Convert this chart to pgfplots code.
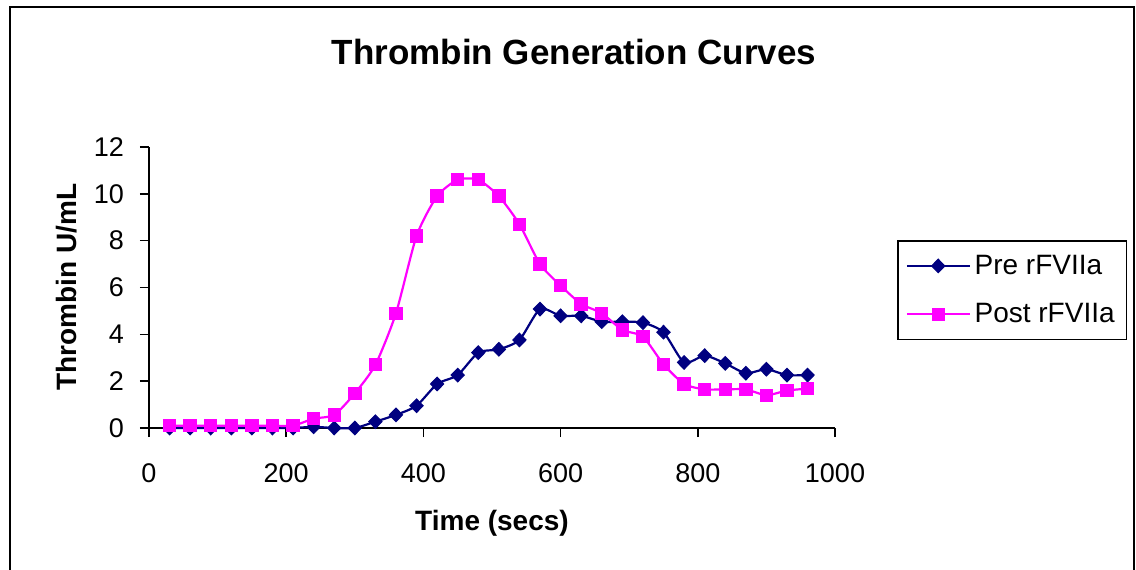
\documentclass[border=0pt]{standalone}
\usepackage{fontspec}
\setmainfont{Liberation Sans}
\usepackage{pgfplots}
\pgfplotsset{compat=1.18}
\definecolor{navy}{HTML}{000080}
\definecolor{mag}{HTML}{FF00FF}
\pgfplotstableread{
t pre post
30 0 0.1
60 0 0.1
90 0 0.1
120 0 0.1
150 0 0.1
180 0 0.1
210 0 0.1
240 0.05 0.4
270 0 0.56
300 0 1.48
330 0.27 2.7
360 0.56 4.9
390 0.95 8.2
420 1.88 9.9
450 2.26 10.6
480 3.22 10.6
510 3.36 9.9
540 3.76 8.7
570 5.08 7.0
600 4.79 6.08
630 4.79 5.3
660 4.54 4.9
690 4.54 4.19
720 4.5 3.9
750 4.09 2.72
780 2.8 1.88
810 3.09 1.65
840 2.76 1.65
870 2.34 1.65
900 2.51 1.4
930 2.26 1.6
960 2.26 1.68
}\datatable
\begin{document}
\begin{tikzpicture}[x=0.5pt,y=0.5pt]
\useasboundingbox (0,0) rectangle (1136,569);
\draw[line width=1.4pt] (10,-20) rectangle (1134,562);
\node[font=\fontsize{17.5}{20}\selectfont\bfseries] at (574,517) {Thrombin Generation Curves};
\node[font=\fontsize{14}{16}\selectfont\bfseries, rotate=90] at (67,282) {Thrombin U/mL};
\node[font=\fontsize{14}{16}\selectfont\bfseries] at (492,46) {Time (secs)};
\begin{axis}[
  at={(74.5pt,70.5pt)}, anchor=south west,
  scale only axis, width=343pt, height=140.5pt,
  xmin=0, xmax=1000, ymin=0, ymax=12,
  axis lines*=left,
  tick align=outside, major tick length=4.5pt,
  xtick={0,200,...,1000}, ytick={0,2,...,12},
  tick style={black, line width=0.8pt},
  axis line style={black, line width=0.8pt},
  ticklabel style={font=\fontsize{13.5}{15}\selectfont},
  xticklabel style={yshift=-10pt},
  yticklabel style={xshift=-4.5pt},
  /pgf/number format/assume math mode=true,
  /pgf/number format/1000 sep={},
  clip=false,
  legend style={at={(1.0904,0.669)}, anchor=north west,
    draw=black, line width=0.8pt,
    font=\fontsize{14}{16}\selectfont,
    inner xsep=4pt, inner ysep=5pt, row sep=9pt},
  legend cell align=left,
  legend image code/.code={\draw[mark repeat=2,mark phase=2] plot coordinates {(0cm,0cm) (0.55cm,0cm) (1.1cm,0cm)};},
]
\addplot[navy, line width=1.1pt, smooth, tension=0.4, mark=diamond*, mark size=3.4pt, mark options={fill=navy, draw=navy, line width=0.5pt, xscale=1.3}] table[x=t, y=pre] {\datatable};
\addlegendentry{Pre rFVIIa}
\addplot[mag, line width=1.1pt, smooth, tension=0.4, mark=square*, mark size=3.1pt, mark options={fill=mag, draw=mag, line width=0.5pt}] table[x=t, y=post] {\datatable};
\addlegendentry{Post rFVIIa}
\end{axis}
\end{tikzpicture}
\end{document}
